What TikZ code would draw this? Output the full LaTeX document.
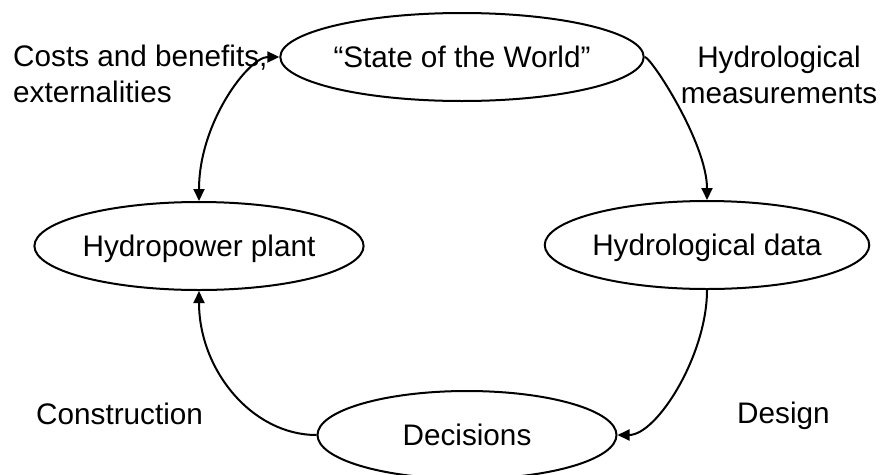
\documentclass[tikz,border=0pt]{standalone}
\usepackage{fontspec}
\setmainfont{Liberation Sans}
\usetikzlibrary{shapes.geometric,arrows.meta}
\begin{document}
\begin{tikzpicture}[x=1pt,y=-1pt,
  every node/.style={font=\fontsize{29.7}{35.5}\selectfont},
  oval/.style={draw=black, line width=2pt, ellipse, inner sep=0pt,
    minimum height=88pt, text height=21.3pt, text depth=0pt},
  lbl/.style={inner sep=0pt},
  link/.style={draw=black, line width=2pt},
  tip/.tip={Triangle[length=12pt,width=11pt]}
]
\useasboundingbox (0,0) rectangle (880,474);
\fill[white] (0,0) rectangle (880,474);
\node[oval, minimum width=304pt] (sw) at (462,57) {“State of the World”};
\node[oval, minimum width=278pt] (hp) at (199,246) {Hydropower plant};
\node[oval, minimum width=278pt] (hd) at (707,245) {Hydrological data};
\node[oval, minimum width=299pt] (dec) at (467,435) {Decisions};

\node[lbl, anchor=base west, align=left] (cb) at (13,102) {Costs and benefits,\\externalities};
\node[lbl, anchor=base, align=center] (hm) at (779,103) {Hydrological\\measurements};
\node[lbl, anchor=base west] (con) at (36,424) {Construction};
\node[lbl, anchor=base west] (des) at (737,423) {Design};

\draw[link, tip-tip] (hp.north) .. controls (199,122) and (249,57) .. (sw.west);
\draw[link, -tip] (sw.east) .. controls (651,57) and (707,143) .. (hd.north);
\draw[link, -tip] (hd.south) .. controls (707,355) and (657,435) .. (dec.east);
\draw[link, -tip] (dec.west) .. controls (252,435) and (199,370) .. (hp.south);
\end{tikzpicture}
\end{document}
